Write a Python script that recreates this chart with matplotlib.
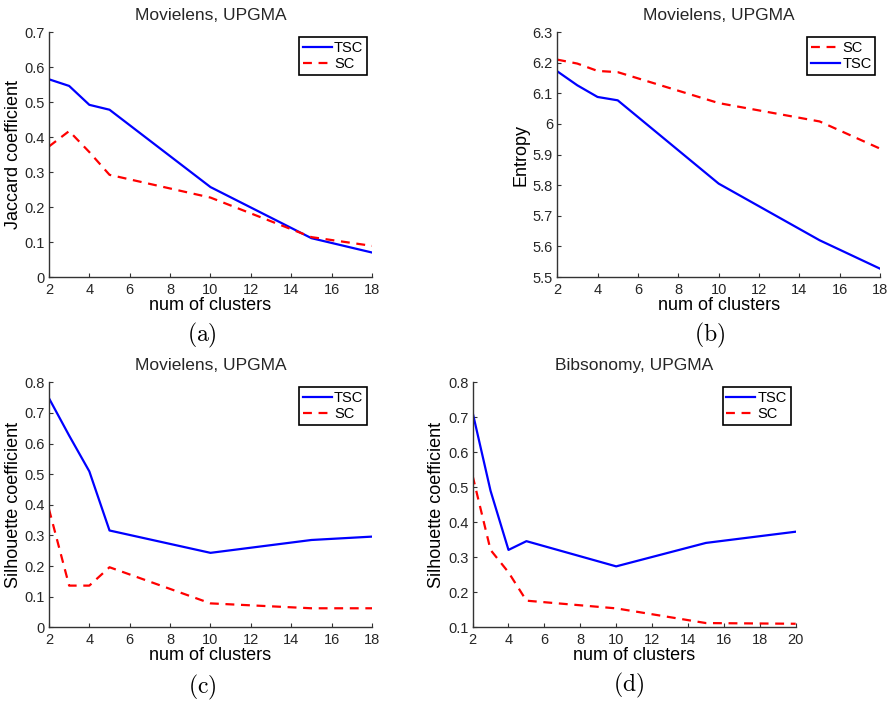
import numpy as np
import matplotlib
matplotlib.use("Agg")
import matplotlib.pyplot as plt

plt.rcParams.update({
    "font.family": ["Liberation Sans", "DejaVu Sans"],
    "font.size": 10,
    "mathtext.fontset": "cm",
    "axes.edgecolor": "#333333",
    "axes.linewidth": 1.0,
    "xtick.direction": "in",
    "ytick.direction": "in",
    "xtick.color": "#333333",
    "ytick.color": "#333333",
    "xtick.labelcolor": "#262626",
    "ytick.labelcolor": "#262626",
    "xtick.major.size": 3,
    "ytick.major.size": 3,
    "xtick.major.pad": 4,
    "ytick.major.pad": 3,
})

C_BLUE = "#0000ff"
C_RED = "#ff0000"

# ── Data ──────────────────────────────────────────────────────────────────────
k_movie = [2, 3, 4, 5, 10, 15, 18]
k_bib = [2, 3, 4, 5, 10, 15, 20]

jac_tsc = [0.565, 0.546, 0.492, 0.478, 0.257, 0.111, 0.070]
jac_sc = [0.373, 0.417, 0.357, 0.292, 0.227, 0.114, 0.089]

ent_tsc = [6.172, 6.126, 6.088, 6.077, 5.805, 5.620, 5.527]
ent_sc = [6.210, 6.197, 6.173, 6.169, 6.068, 6.008, 5.919]

sil_movie_tsc = [0.748, 0.626, 0.509, 0.316, 0.243, 0.285, 0.296]
sil_movie_sc = [0.386, 0.136, 0.136, 0.196, 0.078, 0.062, 0.062]

sil_bib_tsc = [0.714, 0.490, 0.321, 0.346, 0.274, 0.341, 0.373]
sil_bib_sc = [0.533, 0.321, 0.257, 0.176, 0.154, 0.112, 0.110]

fig = plt.figure(figsize=(8.9, 7.04), dpi=100)

W, H = 0.363, 0.348
panels = [
    # left, bottom, x, tsc, sc, ylim, yticks, ylabel, title, sc_first, xlim,
    # caption, caption x, caption y
    (0.055, 0.6065, k_movie, jac_tsc, jac_sc, (0, 0.7), np.arange(0, 0.71, 0.1),
     "Jaccard coefficient", "Movielens, UPGMA", False, (2, 18), "a", 0.227, 0.523),
    (0.626, 0.6065, k_movie, ent_tsc, ent_sc, (5.5, 6.3), np.arange(5.5, 6.31, 0.1),
     "Entropy", "Movielens, UPGMA", True, (2, 18), "b", 0.797, 0.523),
    (0.055, 0.109, k_movie, sil_movie_tsc, sil_movie_sc, (0, 0.8), np.arange(0, 0.81, 0.1),
     "Silhouette coefficient", "Movielens, UPGMA", False, (2, 18), "c", 0.227, 0.024),
    (0.531, 0.109, k_bib, sil_bib_tsc, sil_bib_sc, (0.1, 0.8), np.arange(0.1, 0.81, 0.1),
     "Silhouette coefficient", "Bibsonomy, UPGMA", False, (2, 20), "d", 0.706, 0.027),
]

for (left, bottom, x, tsc, sc, ylim, yticks, ylabel, title, sc_first,
     xlim, cap, capx, capy) in panels:
    ax = fig.add_axes([left, bottom, W, H])
    if sc_first:
        ax.plot(x, sc, "--", color=C_RED, lw=1.6, dashes=(4, 3), label="SC")
        ax.plot(x, tsc, "-", color=C_BLUE, lw=1.6, label="TSC")
    else:
        ax.plot(x, tsc, "-", color=C_BLUE, lw=1.6, label="TSC")
        ax.plot(x, sc, "--", color=C_RED, lw=1.6, dashes=(4, 3), label="SC")
    ax.set_xlim(*xlim)
    ax.set_ylim(*ylim)
    ax.set_xticks(np.arange(xlim[0], xlim[1] + 1, 2))
    ax.set_yticks(yticks)
    ax.set_yticklabels([f"{v:g}" for v in np.round(yticks, 2)])
    ax.spines["top"].set_visible(False)
    ax.spines["right"].set_visible(False)
    ax.tick_params(labelsize=10.5)
    ax.set_xlabel("num of clusters", fontsize=13, labelpad=0)
    ax.set_ylabel(ylabel, fontsize=13, labelpad=2)
    ax.set_title(title, fontsize=12.5, pad=9, color="#262626")
    leg = ax.legend(loc="upper right", fontsize=10.5, handlelength=2.0,
                    handletextpad=0.15, borderpad=0.25, labelspacing=0.15,
                    fancybox=False, framealpha=1, borderaxespad=0.35)
    leg.get_frame().set_edgecolor("black")
    leg.get_frame().set_linewidth(1.2)
    fig.text(capx, capy, rf"$(\mathrm{{{cap}}})$", fontsize=17,
             ha="center", va="center")

fig.savefig("out.png", dpi=100)
